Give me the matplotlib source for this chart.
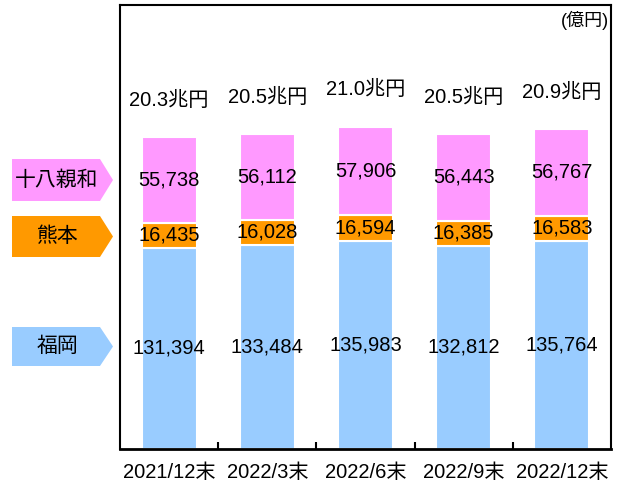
import matplotlib
matplotlib.use("Agg")
import matplotlib.pyplot as plt
from matplotlib.patches import Polygon
import numpy as np

plt.rcParams['font.family'] = ['Liberation Sans', 'Noto Sans CJK JP']

periods = ["2021/12末", "2022/3末", "2022/6末", "2022/9末", "2022/12末"]
fukuoka = [131394, 133484, 135983, 132812, 135764]
kumamoto = [16435, 16028, 16594, 16385, 16583]
shinwa = [55738, 56112, 57906, 56443, 56767]
totals = ["20.3兆円", "20.5兆円", "21.0兆円", "20.5兆円", "20.9兆円"]

names = ["福岡", "熊本", "十八親和"]
colors = ["#99CCFF", "#FF9900", "#FF99FF"]

W, H = 619, 488
fig = plt.figure(figsize=(W / 100, H / 100), dpi=100)
ax = fig.add_axes([120 / W, 1 - 449 / H, (611 - 120) / W, (449 - 5) / H])

x = np.arange(len(periods))
bottom = np.zeros(len(periods))
for vals, c in zip([fukuoka, kumamoto, shinwa], colors):
    vals = np.array(vals)
    ax.bar(x, vals, 0.56, bottom=bottom, color=c, edgecolor="white", linewidth=1.5)
    for xi, b, v in zip(x, bottom, vals):
        ax.text(xi, b + v / 2, f"{v:,}", ha="center", va="center", fontsize=14.5)
    bottom += vals

for xi, top, t in zip(x, bottom, totals):
    ax.annotate(t, (xi, top), xytext=(0, 26.5), textcoords="offset points",
                ha="center", va="center", fontsize=14.5)

ax.set_xlim(-0.5, len(periods) - 0.5)
ax.set_ylim(0, 290000)
ax.set_yticks([])
ax.set_xticks(x)
ax.set_xticklabels(periods, fontsize=14.5)
ax.tick_params(axis="x", which="major", length=0, pad=10)
ax.set_xticks(np.arange(0.5, len(periods) - 1, 1), minor=True)
ax.tick_params(axis="x", which="minor", direction="in", length=5, width=1.5)
for s in ax.spines.values():
    s.set_linewidth(1.5)
ax.spines["bottom"].set_linewidth(2)

fig.text(609 / W, 1 - 20 / H, "(億円)", ha="right", va="center", fontsize=13)

# arrow-shaped legend tags on the left
def px(xp, yp):
    return (xp / W, 1 - yp / H)

tags = [("十八親和", colors[2], 159, 201), ("熊本", colors[1], 216, 257), ("福岡", colors[0], 327, 366)]
for label, c, y0, y1 in tags:
    ym = (y0 + y1) / 2
    pts = [px(12, y0), px(100, y0), px(113, ym), px(100, y1), px(12, y1)]
    fig.patches.append(Polygon(pts, closed=True, facecolor=c, edgecolor="none",
                               transform=fig.transFigure, figure=fig))
    fig.text(57 / W, 1 - ym / H, label, ha="center", va="center", fontsize=15)

fig.savefig("out.png", dpi=100)
